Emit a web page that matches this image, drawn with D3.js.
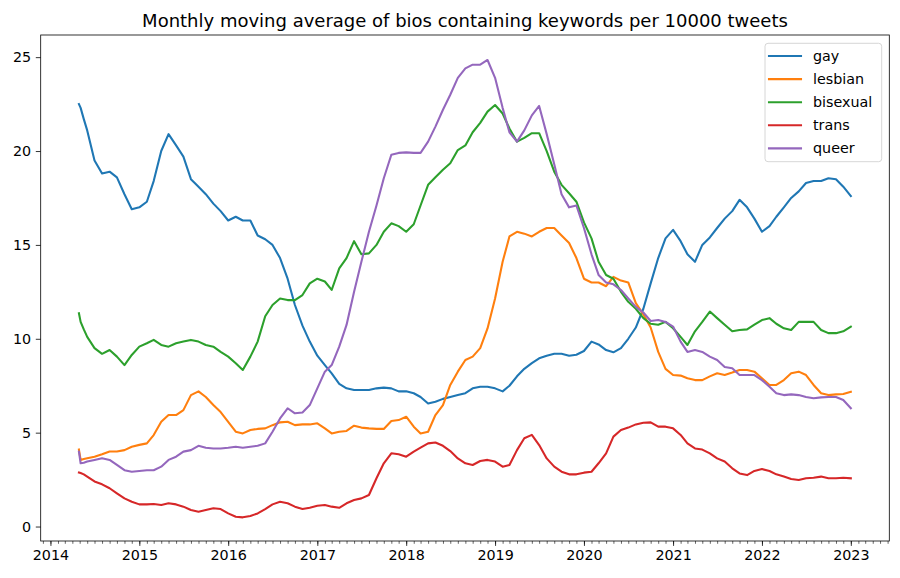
<!DOCTYPE html>
<html>
<head>
<meta charset="utf-8">
<script src="https://cdn.jsdelivr.net/npm/d3@7"></script>
<style>
  body { margin: 0; background: #fff; }
  svg { display: block; font-family: "DejaVu Sans", sans-serif; }
</style>
</head>
<body>
<svg id="chart" width="900" height="578"></svg>
<script>
// data (monthly samples of the moving averages)
const dates = ["2014-04-28", "2014-05-05", "2014-05-18",
  "2014-06", "2014-07", "2014-08", "2014-09", "2014-10", "2014-11", "2014-12",
  "2015-01", "2015-02", "2015-03", "2015-04", "2015-05", "2015-06", "2015-07", "2015-08", "2015-09", "2015-10", "2015-11", "2015-12",
  "2016-01", "2016-02", "2016-03", "2016-04", "2016-05", "2016-06", "2016-07", "2016-08", "2016-09", "2016-10", "2016-11", "2016-12",
  "2017-01", "2017-02", "2017-03", "2017-04", "2017-05", "2017-06", "2017-07", "2017-08", "2017-09", "2017-10", "2017-11", "2017-12",
  "2018-01", "2018-02", "2018-03", "2018-04", "2018-05", "2018-06", "2018-07", "2018-08", "2018-09", "2018-10", "2018-11", "2018-12",
  "2019-01", "2019-02", "2019-03", "2019-04", "2019-05", "2019-06", "2019-07", "2019-08", "2019-09", "2019-10", "2019-11", "2019-12",
  "2020-01", "2020-02", "2020-03", "2020-04", "2020-05", "2020-06", "2020-07", "2020-08", "2020-09", "2020-10", "2020-11", "2020-12",
  "2021-01", "2021-02", "2021-03", "2021-04", "2021-05", "2021-06", "2021-07", "2021-08", "2021-09", "2021-10", "2021-11", "2021-12",
  "2022-01", "2022-02", "2022-03", "2022-04", "2022-05", "2022-06", "2022-07", "2022-08", "2022-09", "2022-10", "2022-11", "2022-12",
  "2023-01"];

const gay = [22.5, 22.3, 21.7,
  21.1, 19.5, 18.8, 18.9, 18.6, 17.7, 16.9,
  17.0, 17.3, 18.4, 20.0, 20.9, 20.3, 19.7, 18.5, 18.1, 17.7, 17.2, 16.8,
  16.3, 16.5, 16.3, 16.3, 15.5, 15.3, 15.0, 14.3, 13.2, 11.8, 10.7, 9.85,
  9.1, 8.6, 8.16, 7.6, 7.36, 7.27, 7.27, 7.27, 7.36, 7.4, 7.36, 7.2,
  7.2, 7.1, 6.9, 6.55, 6.65, 6.8, 6.9, 7.0, 7.1, 7.36, 7.45, 7.45,
  7.36, 7.2, 7.5, 8.0, 8.4, 8.7, 8.96, 9.1, 9.2, 9.2, 9.1, 9.15,
  9.35, 9.85, 9.7, 9.4, 9.28, 9.5, 10.0, 10.6, 11.6, 12.95, 14.3, 15.35,
  15.8, 15.2, 14.5, 14.1, 15.0, 15.4, 15.9, 16.4, 16.8, 17.4, 17.0, 16.4,
  15.7, 16.0, 16.5, 17.0, 17.5, 17.85, 18.3, 18.4, 18.4, 18.55, 18.5, 18.1,
  17.6];

const lesbian = [4.1, 3.55, 3.6,
  3.64, 3.72, 3.85, 4.0, 4.0, 4.07, 4.25,
  4.35, 4.43, 4.87, 5.58, 5.94, 5.94, 6.2, 7.0, 7.2, 6.9, 6.47, 6.1,
  5.58, 5.05, 4.96, 5.14, 5.2, 5.23, 5.4, 5.55, 5.58, 5.4, 5.44, 5.44,
  5.5, 5.23, 4.96, 5.05, 5.09, 5.37, 5.27, 5.23, 5.2, 5.2, 5.62, 5.67,
  5.85, 5.32, 4.96, 5.05, 5.94, 6.47, 7.54, 8.25, 8.87, 9.05, 9.5, 10.55,
  12.15, 14.1, 15.45, 15.7, 15.6, 15.45, 15.7, 15.9, 15.9, 15.5, 15.1, 14.3,
  13.2, 13.0, 13.0, 12.8, 13.3, 13.1, 13.0, 11.9, 11.3, 10.6, 9.3, 8.4,
  8.07, 8.04, 7.9, 7.8, 7.8, 8.0, 8.16, 8.07, 8.2, 8.34, 8.34, 8.25,
  7.9, 7.54, 7.54, 7.8, 8.16, 8.25, 8.07, 7.54, 7.1, 7.0, 7.04, 7.06,
  7.18];

const bisexual = [11.36, 10.9, 10.5,
  10.1, 9.5, 9.2, 9.4, 9.05, 8.6, 9.14,
  9.58, 9.76, 9.94, 9.67, 9.58, 9.76, 9.85, 9.94, 9.85, 9.67, 9.58, 9.3,
  9.05, 8.7, 8.34, 9.05, 9.85, 11.2, 11.8, 12.15, 12.06, 12.06, 12.33, 12.95,
  13.2, 13.05, 12.6, 13.75, 14.3, 15.2, 14.5, 14.55, 15.0, 15.7, 16.15, 16.0,
  15.7, 16.1, 17.1, 18.2, 18.6, 19.0, 19.35, 20.05, 20.3, 21.0, 21.5, 22.1,
  22.45, 22.0, 21.2, 20.5, 20.7, 20.95, 20.95, 20.0, 18.9, 18.2, 17.75, 17.3,
  16.2, 15.35, 14.1, 13.4, 13.2, 12.5, 11.97, 11.6, 11.1, 10.8, 10.75, 10.9,
  10.56, 10.1, 9.67, 10.4, 10.9, 11.45, 11.1, 10.75, 10.4, 10.47, 10.5, 10.75,
  11.0, 11.1, 10.8, 10.56, 10.47, 10.9, 10.9, 10.9, 10.47, 10.3, 10.3, 10.4,
  10.65];

const trans = [2.88, 2.85, 2.78,
  2.66, 2.4, 2.25, 2.04, 1.77, 1.5, 1.32,
  1.18, 1.18, 1.2, 1.15, 1.24, 1.18, 1.06, 0.88, 0.79, 0.88, 0.97, 0.93,
  0.7, 0.52, 0.49, 0.56, 0.7, 0.93, 1.18, 1.32, 1.24, 1.06, 0.93, 1.0,
  1.11, 1.15, 1.06, 1.0, 1.24, 1.41, 1.5, 1.68, 2.57, 3.37, 3.9, 3.85,
  3.72, 3.99, 4.2, 4.43, 4.48, 4.3, 4.02, 3.63, 3.37, 3.28, 3.49, 3.55,
  3.46, 3.19, 3.28, 4.07, 4.7, 4.88, 4.34, 3.63, 3.19, 2.92, 2.78, 2.78,
  2.87, 2.92, 3.37, 3.9, 4.79, 5.14, 5.27, 5.44, 5.53, 5.55, 5.32, 5.32,
  5.23, 4.88, 4.43, 4.16, 4.1, 3.9, 3.63, 3.46, 3.1, 2.83, 2.74, 2.96,
  3.06, 2.96, 2.78, 2.66, 2.53, 2.48, 2.57, 2.6, 2.66, 2.57, 2.57, 2.6,
  2.57];

const queer = [3.99, 3.37, 3.4,
  3.46, 3.55, 3.64, 3.55, 3.28, 3.0, 2.92,
  2.96, 3.0, 3.0, 3.19, 3.55, 3.72, 3.99, 4.07, 4.3, 4.2, 4.16, 4.16,
  4.2, 4.25, 4.2, 4.25, 4.3, 4.43, 5.05, 5.76, 6.3, 6.03, 6.07, 6.47,
  7.36, 8.25, 8.6, 9.58, 10.74, 12.5, 14.1, 15.7, 17.1, 18.55, 19.8, 19.9,
  19.93, 19.9, 19.9, 20.5, 21.3, 22.2, 23.0, 23.9, 24.4, 24.6, 24.6, 24.85,
  23.9, 22.3, 21.0, 20.5, 21.1, 21.9, 22.4, 20.9, 19.3, 17.7, 17.0, 17.1,
  15.9, 14.5, 13.4, 13.0, 12.9, 12.6, 12.15, 11.7, 11.4, 10.95, 11.0, 10.9,
  10.65, 9.85, 9.3, 9.4, 9.3, 9.05, 8.87, 8.5, 8.43, 8.07, 8.07, 8.07,
  7.8, 7.45, 7.1, 7.0, 7.04, 7.0, 6.9, 6.83, 6.88, 6.9, 6.9, 6.74,
  6.3];

const names = ["gay", "lesbian", "bisexual", "trans", "queer"];
const colors = ["#1f77b4", "#ff7f0e", "#2ca02c", "#d62728", "#9467bd"];
const title = "Monthly moving average of bios containing keywords per 10000 tweets";
const yTicks = [0, 5, 10, 15, 20, 25];

const parse = s => s.length > 7 ? d3.timeParse("%Y-%m-%d")(s) : d3.timeParse("%Y-%m")(s);
const series = [gay, lesbian, bisexual, trans, queer].map((vals, i) => ({
  name: names[i],
  color: colors[i],
  points: vals.map((v, j) => ({ date: parse(dates[j]), value: v }))
}));

const svg = d3.select("#chart");
const margin = { left: 40.7, right: 889.3, top: 35, bottom: 541 };
const tickFont = 14.3;

const x = d3.scaleTime()
  .domain([new Date(2013, 10, 22), new Date(2023, 5, 8)])
  .range([margin.left, margin.right]);
const y = d3.scaleLinear()
  .domain([-0.77, 26.18])
  .range([margin.bottom, margin.top]);

// x axis: years major, months minor
const xMinor = svg.append("g")
  .attr("transform", `translate(0,${margin.bottom})`)
  .call(d3.axisBottom(x).ticks(d3.timeMonth.every(1)).tickSize(2.8).tickFormat(""));
xMinor.select(".domain").remove();
xMinor.selectAll("line").attr("stroke-width", 0.6).attr("stroke", "#000");

const xMajor = svg.append("g")
  .attr("transform", `translate(0,${margin.bottom})`)
  .call(d3.axisBottom(x).ticks(d3.timeYear.every(1)).tickSize(4.9).tickPadding(4.4).tickFormat(d3.timeFormat("%Y")));
xMajor.select(".domain").remove();
xMajor.selectAll("line").attr("stroke-width", 0.8).attr("stroke", "#000");
xMajor.selectAll("text").attr("font-size", tickFont).attr("fill", "#000").attr("font-family", "DejaVu Sans");

const yAxis = svg.append("g")
  .attr("transform", `translate(${margin.left},0)`)
  .call(d3.axisLeft(y).tickValues(yTicks).tickSize(4.9).tickPadding(4.6));
yAxis.select(".domain").remove();
yAxis.selectAll("line").attr("stroke-width", 0.8).attr("stroke", "#000");
yAxis.selectAll("text").attr("font-size", tickFont).attr("fill", "#000").attr("font-family", "DejaVu Sans");

// lines
const line = d3.line()
  .x(d => x(d.date))
  .y(d => y(d.value));

svg.append("g")
  .selectAll("path")
  .data(series)
  .join("path")
  .attr("d", d => line(d.points))
  .attr("fill", "none")
  .attr("stroke", d => d.color)
  .attr("stroke-width", 2.08)
  .attr("stroke-linejoin", "round")
  .attr("stroke-linecap", "square");

// spines
svg.append("rect")
  .attr("x", margin.left).attr("y", margin.top)
  .attr("width", margin.right - margin.left).attr("height", margin.bottom - margin.top)
  .attr("fill", "none").attr("stroke", "#000").attr("stroke-width", 0.8);

// title
svg.append("text")
  .attr("x", (margin.left + margin.right) / 2).attr("y", 27)
  .attr("text-anchor", "middle")
  .attr("font-size", 18)
  .text(title);

// legend
const lg = svg.append("g");
lg.append("rect")
  .attr("x", 765).attr("y", 43.3).attr("width", 116.7).attr("height", 118.4)
  .attr("rx", 3).attr("fill", "#fff").attr("fill-opacity", 0.8)
  .attr("stroke", "#cccccc").attr("stroke-width", 0.8);
const rows = lg.selectAll("g.row")
  .data(series)
  .join("g")
  .attr("class", "row")
  .attr("transform", (d, i) => `translate(0,${56 + i * 23.1})`);
rows.append("line")
  .attr("x1", 769).attr("x2", 801)
  .attr("stroke", d => d.color).attr("stroke-width", 2.08)
  .attr("stroke-linecap", "square");
rows.append("text")
  .attr("x", 813).attr("y", 5)
  .attr("font-size", tickFont)
  .text(d => d.name);
</script>
</body>
</html>
